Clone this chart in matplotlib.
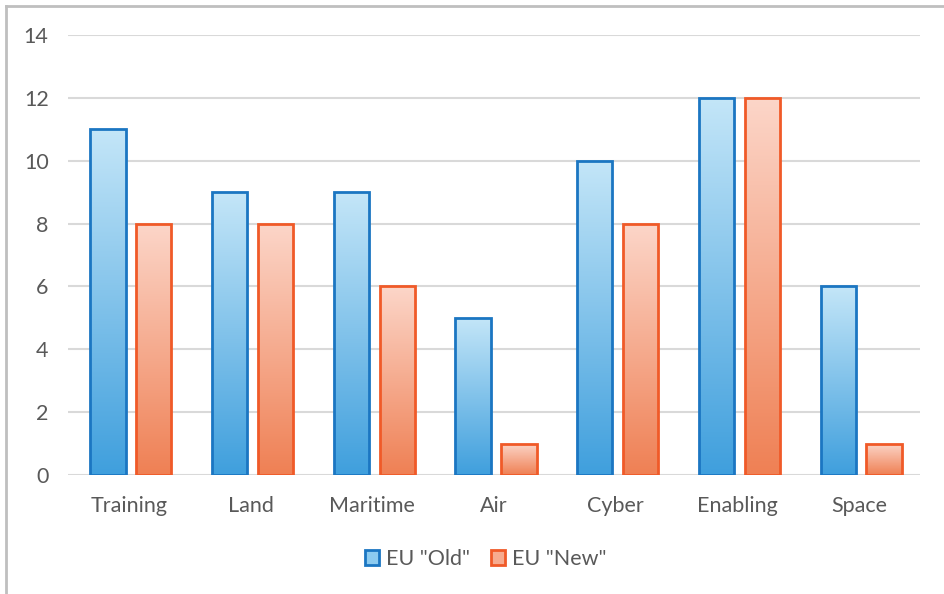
import numpy as np
import matplotlib
matplotlib.use("Agg")
import matplotlib.pyplot as plt
from matplotlib.colors import LinearSegmentedColormap
from matplotlib.patches import Rectangle
from matplotlib.lines import Line2D

categories = ["Training", "Land", "Maritime", "Air", "Cyber", "Enabling", "Space"]
eu_old = [11, 9, 9, 5, 10, 12, 6]
eu_new = [8, 8, 6, 1, 8, 12, 1]
series_names = ['EU "Old"', 'EU "New"']
yticks = [0, 2, 4, 6, 8, 10, 12, 14]

plt.rcParams["font.family"] = ["Lato", "DejaVu Sans"]
text_color = "#595959"

fig = plt.figure(figsize=(9.45, 5.94), dpi=100)
ax = fig.add_axes([0.072, 0.2003, 0.9015, 0.7407])

# outer chart frame (top and left edges)
fig.add_artist(Line2D([0.006, 0.006], [0.0, 0.99], transform=fig.transFigure,
                      color="#bfbfbf", lw=2))
fig.add_artist(Line2D([0.006, 1.0], [0.99, 0.99], transform=fig.transFigure,
                      color="#bfbfbf", lw=2))

blue_cmap = LinearSegmentedColormap.from_list("b", ["#3f9fdd", "#c4e6f8"])
orange_cmap = LinearSegmentedColormap.from_list("o", ["#ef8054", "#fcd6c9"])

x = np.arange(len(categories))
width = 0.29
grad = np.linspace(0, 1, 256).reshape(-1, 1)

def gradient_bars(xs, vals, cmap, edge):
    bars = ax.bar(xs, vals, width, facecolor="none", edgecolor=edge,
                  linewidth=2, zorder=4)
    for b in bars:
        x0, w, h = b.get_x(), b.get_width(), b.get_height()
        im = ax.imshow(grad, cmap=cmap, origin="lower", aspect="auto",
                       extent=(x0, x0 + w, 0, h), zorder=3,
                       interpolation="bilinear")
        clip = Rectangle((x0, 0), w, h, transform=ax.transData)
        im.set_clip_path(clip)
    return bars

gradient_bars(x - 0.172, eu_old, blue_cmap, "#1b76c2")
gradient_bars(x + 0.205, eu_new, orange_cmap, "#f05a28")

ax.set_xlim(-0.5, len(categories) - 0.5)
ax.set_ylim(0, 14)
ax.set_yticks(yticks)
ax.set_xticks(x)
ax.set_xticklabels(categories)
ax.yaxis.grid(True, color="#d9d9d9", linewidth=1.5, zorder=0)
ax.set_axisbelow(True)
for s in ax.spines.values():
    s.set_visible(False)
ax.tick_params(axis="both", length=0, labelsize=15.5, colors=text_color)
ax.tick_params(axis="x", pad=15)
ax.tick_params(axis="y", pad=14)

handles = [
    Rectangle((0, 0), 1, 1, facecolor="#8ccbf0", edgecolor="#1b76c2", linewidth=2),
    Rectangle((0, 0), 1, 1, facecolor="#f7ab8f", edgecolor="#f05a28", linewidth=2),
]
leg = fig.legend(handles, series_names, loc="center", bbox_to_anchor=(0.514, 0.059),
                 ncol=2, frameon=False, fontsize=15.5, handlelength=0.65,
                 handleheight=0.65, handletextpad=0.3, columnspacing=1.0)
for t in leg.get_texts():
    t.set_color(text_color)

fig.savefig("out.png", dpi=100)
